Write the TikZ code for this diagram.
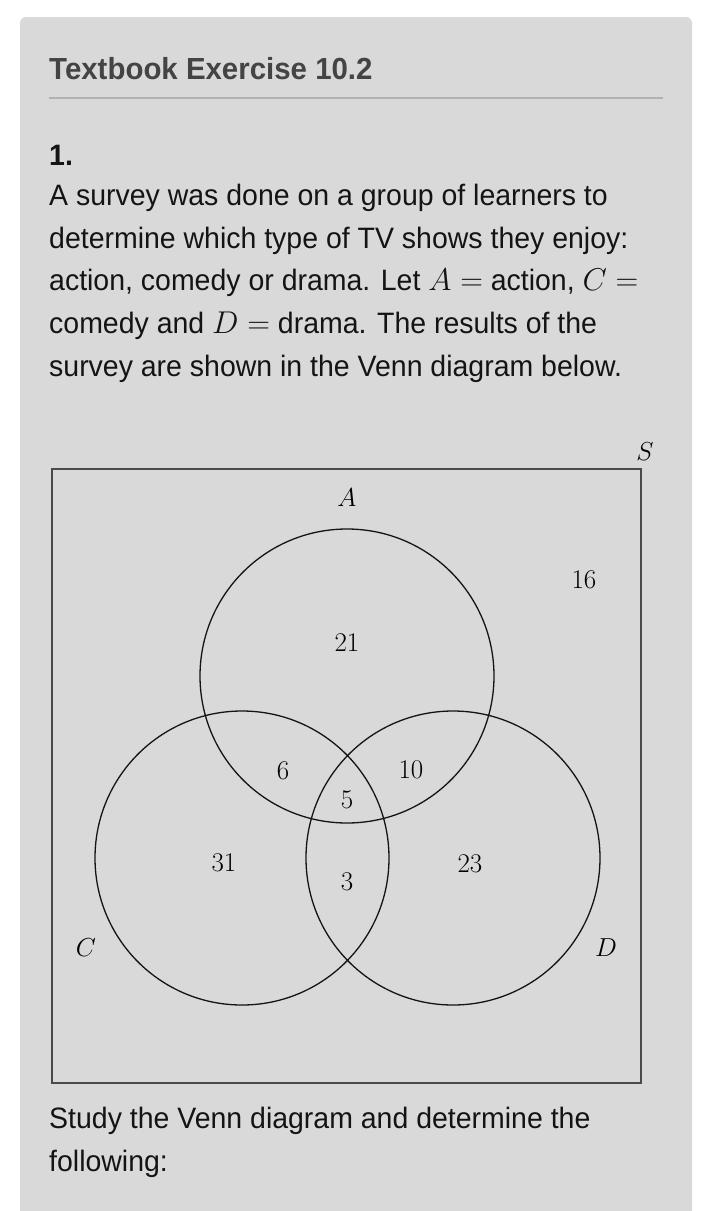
\RequirePackage{fix-cm}
\documentclass[tikz,border=0pt]{standalone}
\usepackage{fontspec}
\setmainfont[FakeStretch=0.965]{Liberation Sans}
\usetikzlibrary{positioning}

\definecolor{panelgrey}{HTML}{D9D9D9}
\definecolor{rulegrey}{HTML}{B2B2B2}
\definecolor{titlegrey}{HTML}{444444}
\definecolor{inkblack}{HTML}{141414}
\definecolor{framegrey}{HTML}{4A4A4A}

% letter in math, a little larger than the body text
\newcommand{\setvar}[1]{{\fontsize{31.5}{42.6}\selectfont$#1 =$}}

\begin{document}
\begin{tikzpicture}[
    x=1pt, y=-1pt,
    head/.style={font=\fontsize{30.5}{36}\selectfont\bfseries, text=titlegrey, anchor=base west, inner sep=0pt},
    para/.style={font=\fontsize{29.5}{42.6}\selectfont, text=inkblack, anchor=base west, align=left, inner sep=0pt},
    setring/.style={circle, draw=inkblack, line width=1.3pt, minimum size=294pt, inner sep=0pt},
    num/.style={font=\fontsize{27}{27}\selectfont, text=black, inner sep=0pt},
    setname/.style={num, font=\fontsize{26}{26}\selectfont}
]

%% ── Page and card ────────────────────────────────────────────────────────────
\useasboundingbox (0,0) rectangle (720,1211);
\fill[white] (0,0) rectangle (720,1211);
\fill[panelgrey, rounded corners=6pt] (20,17) rectangle (692,1230);

%% ── Heading ──────────────────────────────────────────────────────────────────
\node[head] (title) at (49,79) {Textbook Exercise 10.2};
\draw[rulegrey, line width=1.2pt] (49,98) -- (663,98);

%% ── Question text (base = last line) ─────────────────────────────────────────
\node[para, font=\fontsize{29.5}{36}\selectfont\bfseries] (qnum) at (49,165) {1.};
\node[para] (qtext) at (49,376) {A survey was done on a group of learners to\\
    determine which type of TV shows they enjoy:\\
    action, comedy or drama. Let \setvar{A} action, \setvar{C}\\
    comedy and \setvar{D} drama. The results of the\\
    survey are shown in the Venn diagram below.};

%% ── Universal set ────────────────────────────────────────────────────────────
\draw[framegrey, line width=1.5pt] (52,469) rectangle (641,1083);
\node[setname] (lS) at (645,452) {$S$};

%% ── Circles A, C, D (equilateral, side 211) ──────────────────────────────────
\node[setring] (cA) at (347,676) {};
\node[setring] (cC) at (242,858) {};
\node[setring] (cD) at (453,858) {};

\node[setname] (lA) at (347,498) {$A$};
\node[setname] (lC) at (86,948)  {$C$};
\node[setname] (lD) at (606,948) {$D$};

%% ── Region counts ────────────────────────────────────────────────────────────
\node[num] (n16) at (584,580) {$16$};
\node[num] (n21) at (347,643) {$21$};
\node[num] (n6)  at (283,771) {$6$};
\node[num] (n10) at (411,770) {$10$};
\node[num] (n5)  at (347,800) {$5$};
\node[num] (n31) at (224,863) {$31$};
\node[num] (n23) at (470,864) {$23$};
\node[num] (n3)  at (347,882) {$3$};

%% ── Follow-up text ───────────────────────────────────────────────────────────
\node[para] (qtask) at (49,1171) {Study the Venn diagram and determine the\\
    following:};

\end{tikzpicture}
\end{document}
